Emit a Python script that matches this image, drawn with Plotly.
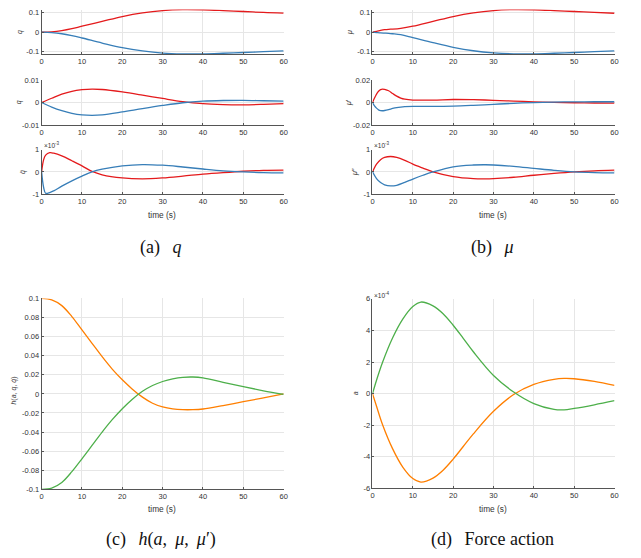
import plotly.graph_objects as go

# ---------------- data ----------------
# (a) q
t_q = [0, 2.5, 5, 7.5, 10, 15, 20, 25, 30, 35, 40, 45, 50, 55, 60]
q_red = [0, 0.002, 0.008, 0.018, 0.031, 0.056, 0.081, 0.100, 0.112, 0.117, 0.116, 0.112, 0.107, 0.102, 0.099]
q_blue = [0, -0.002, -0.008, -0.018, -0.030, -0.056, -0.080, -0.097, -0.108, -0.112, -0.112, -0.109, -0.105, -0.101, -0.097]

t_qd = [0, 2.5, 5, 7.5, 10, 12.5, 15, 20, 25, 30, 35, 40, 45, 50, 55, 60]
qd_red = [0, 0.0019, 0.0037, 0.0050, 0.0057, 0.0060, 0.0058, 0.0047, 0.0033, 0.0018, 0.0004, -0.0005, -0.0009, -0.0010, -0.0008, -0.0005]
qd_blue = [0, -0.0020, -0.0036, -0.0048, -0.0055, -0.0057, -0.0055, -0.0042, -0.0027, -0.0013, -0.0001, 0.0006, 0.0009, 0.0010, 0.0008, 0.0006]

t_qdd = [0, 0.5, 1, 2, 3, 5, 7.5, 10, 12.5, 15, 20, 25, 30, 35, 40, 45, 50, 55, 60]
qdd_red = [0, 0.55, 0.75, 0.86, 0.84, 0.72, 0.50, 0.27, 0.02, -0.13, -0.27, -0.31, -0.27, -0.19, -0.10, -0.03, 0.03, 0.07, 0.08]   # x1e-3
qdd_blue = [0, -0.70, -0.96, -0.93, -0.85, -0.64, -0.40, -0.19, 0.0, 0.12, 0.27, 0.33, 0.30, 0.22, 0.13, 0.05, 0.0, -0.03, -0.04]  # x1e-3

# (b) mu
t_mu = [0, 1, 2, 3, 4, 5, 7, 10, 15, 20, 25, 30, 35, 40, 45, 50, 55, 60]
mu_red = [0, 0.004, 0.009, 0.013, 0.015, 0.016, 0.020, 0.031, 0.056, 0.081, 0.100, 0.112, 0.117, 0.116, 0.112, 0.107, 0.102, 0.098]
mu_blue = [0, -0.002, -0.004, -0.005, -0.006, -0.008, -0.013, -0.028, -0.054, -0.078, -0.096, -0.107, -0.112, -0.112, -0.109, -0.105, -0.101, -0.097]

t_mud = [0, 0.5, 1, 1.5, 2, 2.5, 3, 4, 5, 6, 7, 8, 10, 15, 20, 25, 30, 35, 40, 45, 50, 55, 60]
mud_red = [0, 0.004, 0.0075, 0.010, 0.0115, 0.012, 0.0117, 0.0105, 0.008, 0.0057, 0.004, 0.003, 0.0022, 0.0022, 0.0027, 0.0025, 0.002, 0.0013, 0.0006, 0.0001, -0.0002, -0.0004, -0.0006]
mud_blue = [0, -0.003, -0.005, -0.0065, -0.0072, -0.0073, -0.0071, -0.0063, -0.0053, -0.0045, -0.004, -0.0037, -0.0035, -0.0034, -0.0032, -0.0025, -0.0016, -0.0007, 0.0, 0.0004, 0.0006, 0.0007, 0.0007]

t_mudd = [0, 1, 2, 3, 4.5, 6, 8, 10, 12.5, 15, 20, 25, 28, 30, 35, 40, 45, 50, 55, 60]
mudd_red = [0, 0.35, 0.55, 0.65, 0.69, 0.65, 0.52, 0.35, 0.17, 0.0, -0.21, -0.30, -0.31, -0.30, -0.24, -0.15, -0.07, 0.0, 0.05, 0.08]    # x1e-3
mudd_blue = [0, -0.30, -0.48, -0.58, -0.63, -0.60, -0.47, -0.32, -0.15, 0.0, 0.23, 0.31, 0.32, 0.31, 0.25, 0.16, 0.07, 0.0, -0.03, -0.04]  # x1e-3

# (c) h
t_h = [0, 2.5, 5, 7.5, 10, 12.5, 15, 17.5, 20, 22.5, 25, 27.5, 30, 32.5, 35, 37.5, 40, 45, 50, 55, 60]
h_orange = [0.1, 0.0985, 0.0925, 0.081, 0.067, 0.053, 0.039, 0.026, 0.0148, 0.005, -0.0034, -0.0098, -0.0137, -0.0157, -0.0165, -0.0165, -0.0158, -0.0122, -0.0082, -0.0042, 0.0]
h_green = [-0.1, -0.0987, -0.0928, -0.0815, -0.068, -0.054, -0.040, -0.027, -0.0155, -0.0055, 0.0027, 0.0088, 0.013, 0.0158, 0.0174, 0.0177, 0.0168, 0.0122, 0.0076, 0.0033, -0.0006]

# (d) force action (x1e-4)
t_a = [0, 1, 2.5, 5, 7.5, 10, 12, 15, 17.5, 20, 22.5, 25, 30, 35, 40, 45, 47.5, 50, 55, 60]
a_green = [0, 0.85, 1.99, 3.54, 4.72, 5.52, 5.8, 5.56, 5.06, 4.33, 3.5, 2.65, 1.15, 0.1, -0.63, -1.0, -1.03, -0.94, -0.71, -0.45]
a_orange = [0, -0.8, -1.97, -3.5, -4.65, -5.38, -5.6, -5.35, -4.85, -4.15, -3.35, -2.55, -1.12, -0.06, 0.58, 0.9, 0.96, 0.94, 0.77, 0.52]

x_ticks = [0, 10, 20, 30, 40, 50, 60]
x_ticktext = ["0", "10", "20", "30", "40", "50", "60"]

# ---------------- styling ----------------
W, H = 641, 558
RED, BLUE, GREEN, ORANGE = "#e41a1c", "#377eb8", "#4daf4a", "#ff7f00"
SANS = "Liberation Sans, Arial, sans-serif"
SERIF = "Liberation Serif, Times New Roman, serif"
TICKC = "#333333"
AXC = "#555555"
GRIDC = "#e6e6e6"


def xd(p0, p1):
    return [p0 / W, p1 / W]


def yd(top, bot):
    return [1 - bot / H, 1 - top / H]


fig = go.Figure()

panels = [
    ((40, 284.3), (5.7, 51), [-0.1137, 0.1168], [-0.1, 0, 0.1], ["-0.1", "0", "0.1"],
     [(t_q, q_red, RED), (t_q, q_blue, BLUE)]),
    ((40, 284.3), (77.3, 123), [-0.01, 0.01], [-0.01, 0, 0.01], ["-0.01", "0", "0.01"],
     [(t_qd, qd_red, RED), (t_qd, qd_blue, BLUE)]),
    ((40, 284.3), (148, 193.3), [-1, 1], [-1, 0, 1], ["-1", "0", "1"],
     [(t_qdd, qdd_red, RED), (t_qdd, qdd_blue, BLUE)]),
    ((374, 618.3), (5.7, 51), [-0.1137, 0.1168], [-0.1, 0, 0.1], ["-0.1", "0", "0.1"],
     [(t_mu, mu_red, RED), (t_mu, mu_blue, BLUE)]),
    ((374, 618.3), (77.3, 123), [-0.02, 0.02], [-0.02, 0, 0.02], ["-0.02", "0", "0.02"],
     [(t_mud, mud_red, RED), (t_mud, mud_blue, BLUE)]),
    ((374, 618.3), (148, 193.3), [-1, 1], [-1, 0, 1], ["-1", "0", "1"],
     [(t_mudd, mudd_red, RED), (t_mudd, mudd_blue, BLUE)]),
    ((40, 284.3), (299.3, 493.3), [-0.1, 0.1],
     [-0.1, -0.08, -0.06, -0.04, -0.02, 0, 0.02, 0.04, 0.06, 0.08, 0.1],
     ["-0.1", "-0.08", "-0.06", "-0.04", "-0.02", "0", "0.02", "0.04", "0.06", "0.08", "0.1"],
     [(t_h, h_orange, ORANGE), (t_h, h_green, GREEN)]),
    ((374, 618.3), (299.7, 492.3), [-6, 6], [-6, -4, -2, 0, 2, 4, 6], ["-6", "-4", "-2", "0", "2", "4", "6"],
     [(t_a, a_orange, ORANGE), (t_a, a_green, GREEN)]),
]

layout = {}
for i, (xs, ys, yr, ytv, ytt, series) in enumerate(panels, start=1):
    sfx = "" if i == 1 else str(i)
    for (tx, ty, col) in series:
        fig.add_trace(go.Scatter(
            x=tx, y=ty, mode="lines", xaxis="x" + sfx, yaxis="y" + sfx,
            line=dict(color=col, width=1.3, shape="spline", smoothing=1.0),
            showlegend=False, hoverinfo="skip"))
    common = dict(showgrid=True, gridcolor=GRIDC, gridwidth=0.6, zeroline=False,
                  showline=True, linecolor=AXC, linewidth=0.8,
                  ticks="inside", ticklen=2, tickcolor=AXC, tickwidth=0.7,
                  tickfont=dict(family=SANS, size=7.5, color=TICKC))
    layout["xaxis" + sfx] = dict(domain=xd(*xs), range=[0, 60], anchor="y" + sfx,
                                 tickvals=x_ticks, ticktext=x_ticktext, **common)
    layout["yaxis" + sfx] = dict(domain=yd(*ys), range=yr, anchor="x" + sfx,
                                 tickvals=ytv, ticktext=ytt, **common)

fig.update_layout(**layout)


def ann(text, px, py, size=7.5, angle=0, family=SANS, xanchor="center", color=TICKC):
    fig.add_annotation(text=text, x=px / W, y=1 - py / H, xref="paper", yref="paper",
                       showarrow=False, textangle=angle, xanchor=xanchor, yanchor="middle",
                       font=dict(family=family, size=size, color=color))


# y-axis labels
ann("<i>q</i>", 18, 28.7, size=7, angle=-90)
ann("<i>q\u0307</i>", 18, 100, size=7, angle=-90)
ann("<i>q\u0308</i>", 21, 171, size=7, angle=-90)
ann("<i>\u03bc</i>", 352, 28.7, size=7, angle=-90)
ann("<i>\u03bc</i>\u2032", 351, 100, size=7, angle=-90)
ann("<i>\u03bc</i>\u2032\u2032", 357, 171, size=7, angle=-90)
ann("<i>h</i>(<i>a</i>, <i>q</i>, <i>q\u0307</i>)", 12, 393, size=7, angle=-90)
ann("<i>a</i>", 357, 396, size=7, angle=-90)

# exponent labels
ann("\u00d710<sup>-3</sup>", 40, 143, size=6.5, xanchor="left")
ann("\u00d710<sup>-3</sup>", 374, 143, size=6.5, xanchor="left")
ann("\u00d710<sup>-4</sup>", 374, 296, size=6.5, xanchor="left")

# x-axis titles
ann("time (s)", 162, 214, size=8.3)
ann("time (s)", 496, 214, size=8.3)
ann("time (s)", 162, 513, size=8.3)
ann("time (s)", 496, 513, size=8.3)

# captions
CAP = 18
ann("(a)\u2002\u2009<i>q</i>", 160, 247, size=CAP, family=SERIF, color="#111111")
ann("(b)\u2002\u2009<i>\u03bc</i>", 495, 247, size=CAP, family=SERIF, color="#111111")
ann("(c)\u2002\u2009<i>h</i>(<i>a</i>,\u2009 <i>\u03bc</i>,\u2009 <i>\u03bc</i>\u2032)", 160, 544, size=CAP, family=SERIF, color="#111111")
ann("(d)\u2002\u2009Force action", 495, 544, size=CAP, family=SERIF, color="#111111")

fig.update_layout(width=W, height=H, margin=dict(l=0, r=0, t=0, b=0),
                  paper_bgcolor="white", plot_bgcolor="white")

fig.write_html("out.html", config={"displayModeBar": False},
               post_script="document.body.style.margin='0';document.body.style.overflow='hidden';")
